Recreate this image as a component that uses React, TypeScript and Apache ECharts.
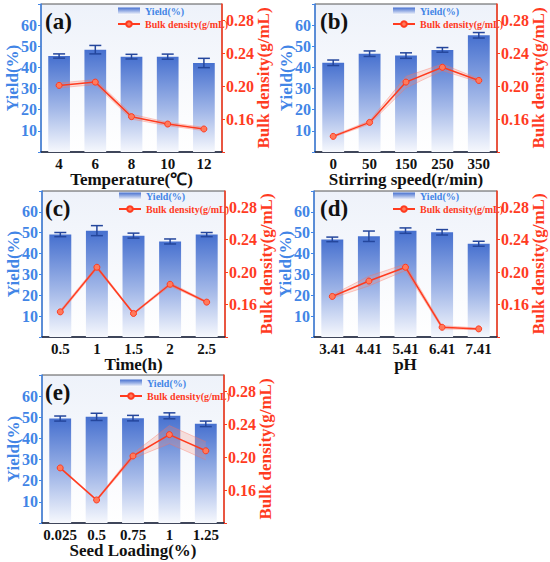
import React, { useEffect, useRef } from "react";
import * as echarts from "echarts";

// ---- data ----
const tempCats = ["4", "6", "8", "10", "12"];
const tempYield = [45.4, 48.4, 45.1, 45.1, 42.1];
const tempYieldErr = [1.0, 2.0, 1.1, 1.2, 2.2];
const tempDensity = [0.201, 0.205, 0.163, 0.154, 0.148];
const tempDensityErr = [0.003, 0.003, 0.003, 0.002, 0.002];

const stirCats = ["0", "50", "150", "250", "350"];
const stirYield = [42.2, 46.5, 45.6, 48.3, 55.2];
const stirYieldErr = [1.3, 1.3, 1.3, 1.1, 1.3];
const stirDensity = [0.139, 0.156, 0.205, 0.223, 0.207];
const stirDensityErr = [0.001, 0.002, 0.007, 0.004, 0.002];

const timeCats = ["0.5", "1", "1.5", "2", "2.5"];
const timeYield = [49.1, 51.0, 48.6, 45.8, 49.1];
const timeYieldErr = [1.0, 2.4, 1.2, 1.2, 1.0];
const timeDensity = [0.151, 0.206, 0.149, 0.185, 0.163];
const timeDensityErr = [0.002, 0.002, 0.001, 0.002, 0.001];

const phCats = ["3.41", "4.41", "5.41", "6.41", "7.41"];
const phYield = [46.8, 48.3, 51.0, 50.2, 44.7];
const phYieldErr = [1.1, 2.5, 1.3, 1.3, 1.2];
const phDensity = [0.17, 0.189, 0.206, 0.132, 0.13];
const phDensityErr = [0.002, 0.006, 0.004, 0.002, 0.001];

const seedCats = ["0.025", "0.5", "0.75", "1", "1.25"];
const seedYield = [49.4, 50.2, 49.6, 50.7, 46.9];
const seedYieldErr = [1.2, 1.7, 1.3, 1.4, 1.3];
const seedDensity = [0.187, 0.148, 0.2015, 0.2275, 0.2078];
const seedDensityErr = [0.001, 0.001, 0.003, 0.011, 0.011];

const xNames = ["Temperature(℃)", "Stirring speed(r/min)", "Time(h)", "pH", "Seed Loading(%)"];
const tags = ["(a)", "(b)", "(c)", "(d)", "(e)"];
const yieldName = "Yield(%)";
const densityName = "Bulk density(g/mL)";

// ---- layout ----
const grids = [
  { left: 41, top: 4, width: 181, height: 148 },
  { left: 315, top: 4, width: 182, height: 148 },
  { left: 42, top: 191, width: 183, height: 146 },
  { left: 314, top: 191, width: 183, height: 146 },
  { left: 42, top: 375, width: 182, height: 148 },
];

const FONT = "Liberation Serif";
const BLUE = "#4285e6";
const RED = "#ff3b1f";
const ERR = "#24469c";

const panels = [
  { cats: tempCats, yld: tempYield, yErr: tempYieldErr, den: tempDensity, dErr: tempDensityErr },
  { cats: stirCats, yld: stirYield, yErr: stirYieldErr, den: stirDensity, dErr: stirDensityErr },
  { cats: timeCats, yld: timeYield, yErr: timeYieldErr, den: timeDensity, dErr: timeDensityErr },
  { cats: phCats, yld: phYield, yErr: phYieldErr, den: phDensity, dErr: phDensityErr },
  { cats: seedCats, yld: seedYield, yErr: seedYieldErr, den: seedDensity, dErr: seedDensityErr },
];

function buildOption() {
  const barGrad = () =>
    new echarts.graphic.LinearGradient(0, 0, 0, 1, [
      { offset: 0, color: "#4670cf" },
      { offset: 0.55, color: "#a3b8e8" },
      { offset: 1, color: "#f6f8fd" },
    ]);
  const bgGrad = () =>
    new echarts.graphic.LinearGradient(0, 0, 0, 1, [
      { offset: 0, color: "#eef2fa" },
      { offset: 1, color: "#ffffff" },
    ]);

  const grid: any[] = [];
  const xAxis: any[] = [];
  const yAxis: any[] = [];
  const series: any[] = [];
  const legend: any[] = [];
  const title: any[] = [];

  const legendPos = [
    { left: 117, top: 6 },
    { left: 392, top: 6 },
    { left: 118, top: 191 },
    { left: 392, top: 191 },
    { left: 119, top: 378 },
  ];
  const tagPos = [
    { left: 45, top: 10 },
    { left: 320, top: 10 },
    { left: 45, top: 197 },
    { left: 320, top: 197 },
    { left: 45, top: 381 },
  ];

  panels.forEach((p, i) => {
    grid.push({
      ...grids[i],
      show: true,
      borderColor: "#555",
      borderWidth: 1,
      backgroundColor: bgGrad(),
      containLabel: false,
    });
    xAxis.push({
      type: "category",
      gridIndex: i,
      data: p.cats,
      axisLine: { lineStyle: { color: "#1c2640", width: 1.5 } },
      axisTick: { alignWithLabel: true, inside: true, length: 3, lineStyle: { color: "#111" } },
      axisLabel: {
        interval: 0,
        color: "#111",
        fontSize: 15,
        fontWeight: "bold",
        fontFamily: FONT,
        margin: 4,
      },
      name: xNames[i],
      nameLocation: "middle",
      nameGap: 19,
      nameMoveOverlap: false,
      nameTextStyle: { color: "#111", fontSize: 17, fontWeight: "bold", fontFamily: FONT },
    });
    yAxis.push({
      type: "value",
      gridIndex: i,
      position: "left",
      min: 0,
      max: 70,
      interval: 10,
      splitLine: { show: false },
      axisLine: { show: true, lineStyle: { color: BLUE, width: 1.5 } },
      axisTick: { show: true, length: 3, lineStyle: { color: BLUE } },
      axisLabel: {
        color: BLUE,
        fontSize: 16,
        fontWeight: "bold",
        fontFamily: FONT,
        margin: 4,
        formatter: (v: number) => (v === 0 || v === 70 ? "" : String(v)),
      },
      name: yieldName,
      nameLocation: "middle",
      nameGap: 20,
      nameMoveOverlap: false,
      nameTextStyle: { color: BLUE, fontSize: 17, fontWeight: "bold", fontFamily: FONT },
    });
    yAxis.push({
      type: "value",
      gridIndex: i,
      position: "right",
      min: 0.12,
      max: 0.3,
      interval: 0.04,
      splitLine: { show: false },
      axisLine: { show: true, lineStyle: { color: RED, width: 1.5 } },
      axisTick: { show: true, length: 3, lineStyle: { color: RED } },
      axisLabel: {
        color: RED,
        fontSize: 16,
        fontWeight: "bold",
        fontFamily: FONT,
        margin: 4,
        showMaxLabel: false,
        formatter: (v: number) => (v < 0.15 || v > 0.29 ? "" : v.toFixed(2)),
      },
      name: densityName,
      nameLocation: "middle",
      nameGap: 33,
      nameMoveOverlap: false,
      nameTextStyle: { color: RED, fontSize: 17, fontWeight: "bold", fontFamily: FONT },
    });

    const yl = 2 * i;
    const yr = 2 * i + 1;

    series.push({
      name: yieldName,
      type: "bar",
      xAxisIndex: i,
      yAxisIndex: yl,
      data: p.yld,
      barWidth: "60%",
      itemStyle: { color: barGrad() },
      z: 2,
    });
    series.push({
      name: "yieldErr" + i,
      type: "custom",
      xAxisIndex: i,
      yAxisIndex: yl,
      data: p.yld.map((v, j) => [j, v - p.yErr[j], v + p.yErr[j]]),
      encode: { x: 0, y: [1, 2] },
      silent: true,
      z: 3,
      renderItem: (params: any, api: any) => {
        const x = api.value(0);
        const pHi = api.coord([x, api.value(2)]);
        const pLo = api.coord([x, api.value(1)]);
        const hw = 6;
        const style = { stroke: ERR, lineWidth: 1.5 };
        return {
          type: "group",
          children: [
            { type: "line", shape: { x1: pHi[0], y1: pHi[1], x2: pLo[0], y2: pLo[1] }, style },
            { type: "line", shape: { x1: pHi[0] - hw, y1: pHi[1], x2: pHi[0] + hw, y2: pHi[1] }, style },
            { type: "line", shape: { x1: pLo[0] - hw, y1: pLo[1], x2: pLo[0] + hw, y2: pLo[1] }, style },
          ],
        };
      },
    });
    series.push({
      name: "bandLow" + i,
      type: "line",
      xAxisIndex: i,
      yAxisIndex: yr,
      stack: "band" + i,
      data: p.den.map((v, j) => v - p.dErr[j]),
      symbol: "none",
      silent: true,
      lineStyle: { color: "rgba(255,110,90,0.45)", width: 0.8 },
      z: 4,
    });
    series.push({
      name: "bandHigh" + i,
      type: "line",
      xAxisIndex: i,
      yAxisIndex: yr,
      stack: "band" + i,
      data: p.dErr.map((e) => 2 * e),
      symbol: "none",
      silent: true,
      lineStyle: { color: "rgba(255,110,90,0.45)", width: 0.8 },
      areaStyle: { color: "rgba(248,140,120,0.35)" },
      z: 4,
    });
    series.push({
      name: densityName,
      type: "line",
      xAxisIndex: i,
      yAxisIndex: yr,
      data: p.den,
      symbol: "circle",
      symbolSize: 6,
      lineStyle: { color: RED, width: 1.5 },
      itemStyle: { color: "#ff7a5c", borderColor: RED, borderWidth: 1 },
      z: 5,
    });

    legend.push({
      ...legendPos[i],
      orient: "vertical",
      padding: 0,
      itemGap: 3,
      itemWidth: 22,
      itemHeight: 7,
      selectedMode: false,
      textStyle: { fontSize: 10, fontWeight: "bold", fontFamily: FONT },
      data: [
        { name: yieldName, icon: "rect", textStyle: { color: BLUE, fontSize: 10, fontWeight: "bold", fontFamily: FONT } },
        { name: densityName, textStyle: { color: RED, fontSize: 10, fontWeight: "bold", fontFamily: FONT } },
      ],
    });
    title.push({
      text: tags[i],
      ...tagPos[i],
      padding: 0,
      textStyle: { fontSize: 23, fontWeight: "bold", fontFamily: FONT, color: "#111" },
    });
  });

  return {
    animation: false,
    backgroundColor: "#fff",
    textStyle: { fontFamily: FONT },
    title,
    legend,
    grid,
    xAxis,
    yAxis,
    series,
  };
}

export default function App() {
  const ref = useRef<HTMLDivElement>(null);
  useEffect(() => {
    if (!ref.current) return;
    const chart = echarts.init(ref.current, undefined, { renderer: "svg" });
    chart.setOption(buildOption() as any);
    return () => chart.dispose();
  }, []);
  return (
    <div
      ref={ref}
      style={{ position: "absolute", left: 0, top: 0, width: 550, height: 562 }}
    />
  );
}
